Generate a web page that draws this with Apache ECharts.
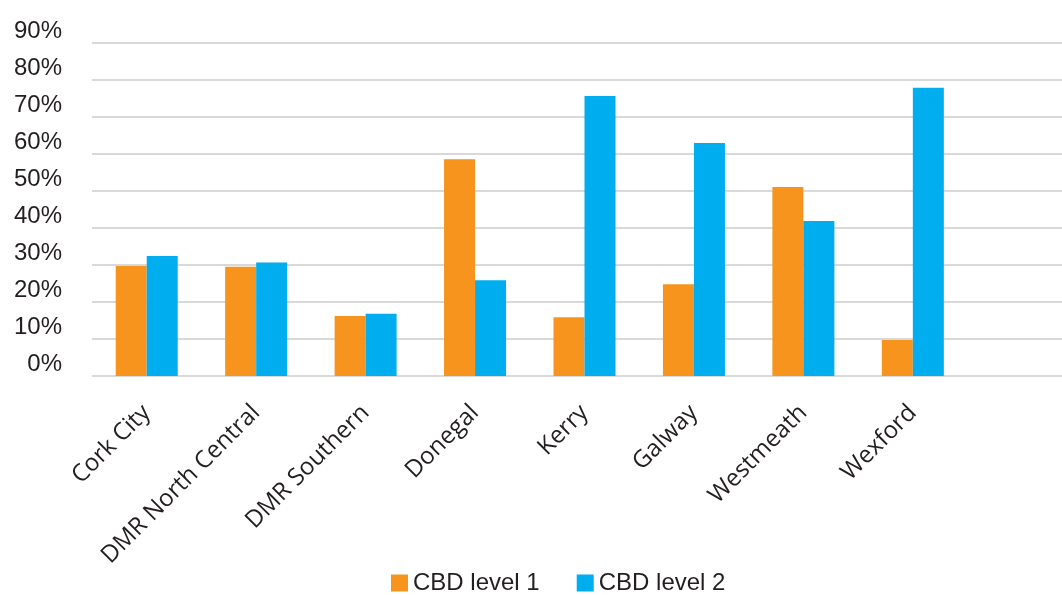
<!DOCTYPE html>
<html>
<head>
<meta charset="utf-8">
<script src="https://cdn.jsdelivr.net/npm/echarts@6/dist/echarts.min.js"></script>
<style>
  html, body { margin: 0; padding: 0; background: #fff; }
  #chart { width: 1062px; height: 595px; }
</style>
</head>
<body>
<div id="chart"></div>
<script>
// categories (last slot is empty in the original)
const regions = ['Cork City', 'DMR North Central', 'DMR Southern', 'Donegal', 'Kerry', 'Galway', 'Westmeath', 'Wexford', '']
const level1 = [29.7, 29.5, 16.2, 58.6, 15.9, 24.8, 51.1, 9.7, null]
const level2 = [32.4, 30.7, 16.8, 25.9, 75.7, 63.0, 41.9, 77.9, null]
const yTicks = [0, 10, 20, 30, 40, 50, 60, 70, 80, 90]

const c = echarts.init(document.getElementById('chart'))
c.setOption({
  animation: false,
  legend: {
    data: ['CBD level 1', 'CBD level 2'],
    top: 566,
    left: 386,
    icon: 'rect',
    itemWidth: 17,
    itemHeight: 17,
    itemGap: 37,
    textStyle: { fontFamily: 'Liberation Sans', fontSize: 24, color: '#231f20' }
  },
  grid: { left: 92, top: 43, width: 985, bottom: 219, outerBoundsMode: 'none' },
  xAxis: {
    type: 'category',
    data: regions,
    axisLine: { show: false },
    axisTick: { show: false },
    axisLabel: {
      rotate: 45,
      interval: 0,
      margin: 33,
      fontFamily: 'Open Sans',
      fontSize: 24,
      color: '#231f20'
    }
  },
  yAxis: {
    type: 'value',
    min: yTicks[0],
    max: yTicks[yTicks.length - 1],
    interval: 10,
    axisLine: { show: false },
    axisTick: { show: false },
    splitLine: { lineStyle: { color: '#d9d9d9', width: 2 } },
    axisLabel: {
      margin: 30,
      fontFamily: 'Liberation Sans',
      fontSize: 24,
      color: '#231f20',
      verticalAlign: 'bottom',
      formatter: '{value}%'
    }
  },
  series: [
    {
      name: 'CBD level 1', type: 'bar', data: level1,
      barWidth: 31, barGap: '0%',
      itemStyle: { color: '#F7941D' }
    },
    {
      name: 'CBD level 2', type: 'bar', data: level2,
      barWidth: 31, barGap: '0%',
      itemStyle: { color: '#00AEEF' }
    }
  ]
})
</script>
</body>
</html>
